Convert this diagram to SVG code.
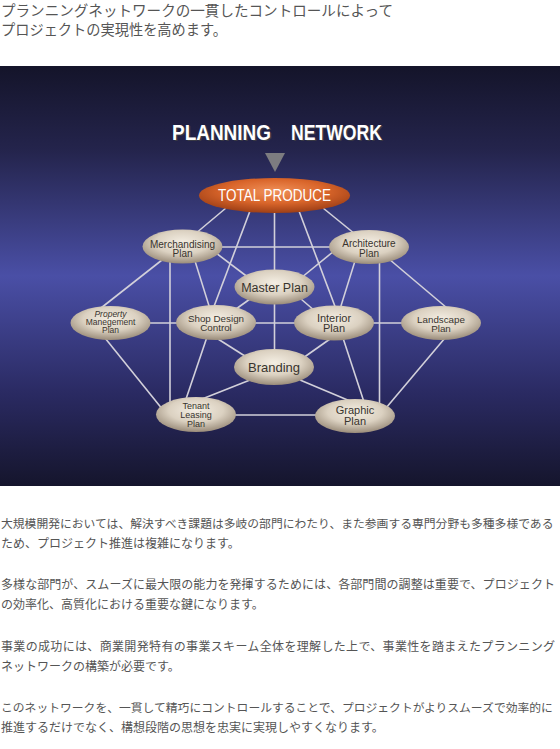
<svg xmlns="http://www.w3.org/2000/svg" width="560" height="749" viewBox="0 0 560 749">
<defs>
<linearGradient id="bg" x1="0" y1="66" x2="0" y2="486" gradientUnits="userSpaceOnUse">
<stop offset="0" stop-color="#14142a"/>
<stop offset="0.2" stop-color="#24244c"/>
<stop offset="0.5" stop-color="#4a4fa6"/>
<stop offset="0.78" stop-color="#2a2a62"/>
<stop offset="1" stop-color="#15152c"/>
</linearGradient>
<radialGradient id="beige" cx="50%" cy="38%" r="62%">
<stop offset="0" stop-color="#f4eee3"/>
<stop offset="0.55" stop-color="#dbd1c1"/>
<stop offset="1" stop-color="#9a8c7a"/>
</radialGradient>
<radialGradient id="orange" cx="50%" cy="38%" r="62%">
<stop offset="0" stop-color="#f0915a"/>
<stop offset="0.55" stop-color="#d9652a"/>
<stop offset="1" stop-color="#9e3f16"/>
</radialGradient>
<style>
.ttl{font-family:"Noto Sans CJK JP",sans-serif;font-size:14.5px;fill:#555}
.body{font-family:"Noto Sans CJK JP",sans-serif;font-size:12px;fill:#555}
.wide{font-size:11.8px}
.node ellipse{fill:url(#beige)}
.lbl{font-family:"Liberation Sans",Arial,sans-serif;fill:#38342e;text-anchor:middle}
.edge line{stroke:#d2d0da;stroke-width:1.6}
.hd{font-family:"Liberation Sans",Arial,sans-serif;font-weight:bold;font-size:22px}
</style>
</defs>

<text class="ttl" x="1" y="15.5" textLength="392" lengthAdjust="spacingAndGlyphs">プランニングネットワークの一貫したコントロールによって</text>
<text class="ttl" x="1" y="34.5" textLength="226" lengthAdjust="spacingAndGlyphs">プロジェクトの実現性を高めます。</text>

<rect x="0" y="66" width="560" height="420" fill="url(#bg)"/>

<g id="heading">
<text class="hd" x="173.5" y="141" fill="#3a3a44" textLength="99" lengthAdjust="spacingAndGlyphs">PLANNING</text>
<text class="hd" x="292.5" y="141" fill="#3a3a44" textLength="91" lengthAdjust="spacingAndGlyphs">NETWORK</text>
<text class="hd" x="172" y="139.5" fill="#ffffff" textLength="99" lengthAdjust="spacingAndGlyphs">PLANNING</text>
<text class="hd" x="291" y="139.5" fill="#ffffff" textLength="91" lengthAdjust="spacingAndGlyphs">NETWORK</text>
<polygon points="265,153 285,153 275,172" fill="#7c7c80"/>
</g>

<g class="edge" id="connectors">
<line x1="226" y1="208" x2="195" y2="234"/>
<line x1="250" y1="211" x2="213" y2="309"/>
<line x1="274.5" y1="212" x2="274.5" y2="352"/>
<line x1="299" y1="211" x2="336" y2="309"/>
<line x1="323" y1="208" x2="355" y2="234"/>
<line x1="215" y1="247" x2="335" y2="247"/>
<line x1="216" y1="253" x2="249" y2="278"/>
<line x1="195" y1="261" x2="210" y2="309"/>
<line x1="162" y1="260" x2="101" y2="308"/>
<line x1="170" y1="260" x2="170" y2="410"/>
<line x1="334" y1="251" x2="301" y2="278"/>
<line x1="355" y1="261" x2="340" y2="309"/>
<line x1="389" y1="259" x2="447" y2="308"/>
<line x1="379.5" y1="260" x2="379.5" y2="406"/>
<line x1="145" y1="323" x2="182" y2="323"/>
<line x1="250" y1="323" x2="300" y2="323"/>
<line x1="368" y1="323" x2="407" y2="323"/>
<line x1="236" y1="309" x2="250" y2="299"/>
<line x1="301" y1="299" x2="315" y2="311"/>
<line x1="218" y1="339" x2="248" y2="358"/>
<line x1="330" y1="339" x2="303" y2="358"/>
<line x1="207" y1="337" x2="185" y2="402"/>
<line x1="343" y1="338" x2="364" y2="402"/>
<line x1="105" y1="338" x2="163" y2="410"/>
<line x1="445" y1="338" x2="386" y2="408"/>
<line x1="250" y1="380" x2="202" y2="399"/>
<line x1="300" y1="380" x2="350" y2="401"/>
<line x1="230" y1="415" x2="320" y2="415"/>
</g>

<g id="total-produce">
<ellipse cx="274.5" cy="195.5" rx="75.5" ry="17.5" fill="url(#orange)"/>
<text x="274.5" y="200.5" font-family="Liberation Sans, Arial, sans-serif" font-size="16" fill="#ffffff" text-anchor="middle" textLength="113" lengthAdjust="spacingAndGlyphs">TOTAL PRODUCE</text>
</g>

<g class="node" id="merchandising">
<ellipse cx="182.5" cy="246.5" rx="40" ry="17"/>
<text class="lbl" x="182.5" y="247.5" font-size="10">Merchandising</text>
<text class="lbl" x="182.5" y="257" font-size="10">Plan</text>
</g>

<g class="node" id="architecture">
<ellipse cx="369" cy="247" rx="40" ry="17"/>
<text class="lbl" x="369" y="247" font-size="10">Architecture</text>
<text class="lbl" x="369" y="256.5" font-size="10">Plan</text>
</g>

<g class="node" id="master-plan">
<ellipse cx="274.5" cy="287" rx="40" ry="17.5"/>
<text class="lbl" x="274.5" y="291.5" font-size="12.5">Master Plan</text>
</g>

<g class="node" id="property">
<ellipse cx="110.5" cy="323" rx="40" ry="17"/>
<text class="lbl" x="110.5" y="317" font-size="8.5" font-style="italic">Property</text>
<text class="lbl" x="110.5" y="325.2" font-size="8.5">Manegement</text>
<text class="lbl" x="110.5" y="333.4" font-size="8.5">Plan</text>
</g>

<g class="node" id="shop-design">
<ellipse cx="216" cy="322.5" rx="40" ry="17.5"/>
<text class="lbl" x="216" y="321.5" font-size="9.8">Shop Design</text>
<text class="lbl" x="216" y="331" font-size="9.8">Control</text>
</g>

<g class="node" id="interior">
<ellipse cx="334" cy="323" rx="40" ry="17.5"/>
<text class="lbl" x="334" y="321.7" font-size="11">Interior</text>
<text class="lbl" x="334" y="331.9" font-size="11">Plan</text>
</g>

<g class="node" id="landscape">
<ellipse cx="441" cy="323" rx="40" ry="17"/>
<text class="lbl" x="441" y="322.7" font-size="9.8">Landscape</text>
<text class="lbl" x="441" y="332" font-size="9.8">Plan</text>
</g>

<g class="node" id="branding">
<ellipse cx="274" cy="367" rx="40" ry="18"/>
<text class="lbl" x="274" y="371.7" font-size="13">Branding</text>
</g>

<g class="node" id="tenant">
<ellipse cx="196" cy="414.5" rx="40" ry="17.5"/>
<text class="lbl" x="196" y="409" font-size="9">Tenant</text>
<text class="lbl" x="196" y="418" font-size="9">Leasing</text>
<text class="lbl" x="196" y="427" font-size="9">Plan</text>
</g>

<g class="node" id="graphic">
<ellipse cx="355" cy="416" rx="40" ry="17"/>
<text class="lbl" x="355" y="414" font-size="11">Graphic</text>
<text class="lbl" x="355" y="425.2" font-size="11">Plan</text>
</g>

<text class="body wide" x="1" y="527.5">大規模開発においては、解決すべき課題は多岐の部門にわたり、また参画する専門分野も多種多様である</text>
<text class="body" x="1" y="547.5">ため、プロジェクト推進は複雑になります。</text>
<text class="body" x="1" y="589" textLength="554" lengthAdjust="spacing">多様な部門が、スムーズに最大限の能力を発揮するためには、各部門間の調整は重要で、プロジェクト</text>
<text class="body" x="1" y="609">の効率化、高質化における重要な鍵になります。</text>
<text class="body" x="1" y="650.5" textLength="554" lengthAdjust="spacing">事業の成功には、商業開発特有の事業スキーム全体を理解した上で、事業性を踏まえたプランニング</text>
<text class="body" x="1" y="670.5">ネットワークの構築が必要です。</text>
<text class="body wide" x="1" y="712">このネットワークを、一貫して精巧にコントロールすることで、プロジェクトがよりスムーズで効率的に</text>
<text class="body" x="1" y="732">推進するだけでなく、構想段階の思想を忠実に実現しやすくなります。</text>
</svg>
